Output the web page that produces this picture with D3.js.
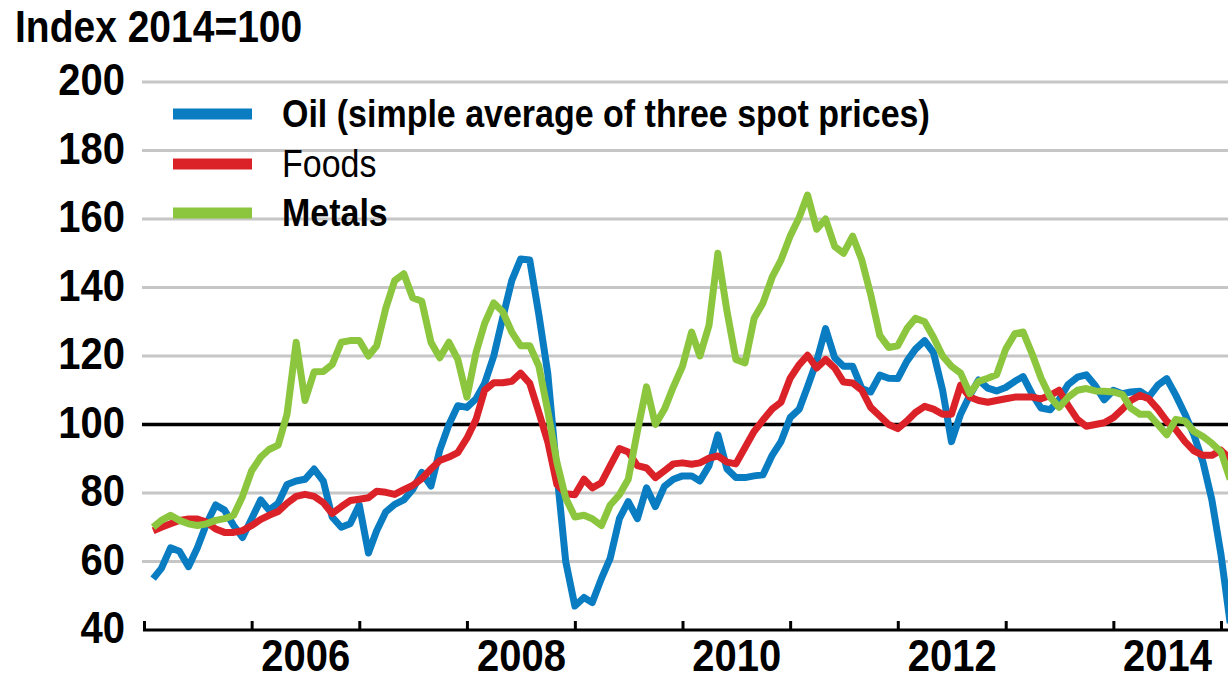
<!DOCTYPE html>
<html>
<head>
<meta charset="utf-8">
<script src="https://cdn.jsdelivr.net/npm/d3@7"></script>
<style>
    body { margin: 0; background: #fff; }
    svg { display: block; font-family: "Liberation Sans", Arial, sans-serif; }
</style>
</head>
<body>
<div id="chart"></div>
<script>
// monthly index values, Jan 2005 .. Jan 2015 (one row per year)
const oil = [
    55, 58, 64, 63, 58.5, 64, 71, 76.5, 75, 70.5, 67, 72.5,
    78, 75, 77, 82.5, 83.5, 84, 87, 83.5, 73, 70, 71, 76.5,
    62.5, 69, 74.5, 76.7, 78, 81, 86, 82, 92.5, 100, 105.5, 105,
    107.5, 112, 120, 131, 142, 148.3, 148, 132, 115, 86, 60, 47,
    49.5, 48, 55, 61, 72.5, 77.5, 72.5, 81.5, 76, 82, 84, 85,
    85, 83.5, 88, 97, 87, 84.5, 84.5, 85, 85.3, 91, 95, 102,
    104.5, 111, 118.5, 128, 119.5, 117, 117, 110.5, 109.5, 114.4, 113.5, 113.4,
    118.5, 122, 124.5, 121, 110, 95, 103, 108.5, 113, 110.6, 109.8, 110.8,
    112.6, 114, 108.8, 104.8, 104.3, 107.3, 111.7, 113.8, 114.5, 111.3, 107.2, 110,
    109, 109.5, 109.7, 108, 111.5, 113.4, 108.5, 103, 97, 89, 78, 62,
    42
]
const foods = [
    69, 70, 71, 72, 72.4, 72.4, 71.5, 69.5, 68.5, 68.5, 69, 70.5,
    72.3, 73.5, 74.6, 77, 79, 79.6, 79, 77.2, 74, 76, 77.8, 78.2,
    78.6, 80.5, 80.2, 79.6, 81, 82.2, 84.2, 87, 89.5, 90.5, 91.8, 96,
    101.5, 110, 112.2, 112.2, 112.6, 115, 112, 103.5, 95, 82.5, 79.8, 79.5,
    84, 81.5, 83, 88, 93, 92, 88, 87.3, 84.5, 86.5, 88.5, 88.8,
    88.4, 88.8, 90.2, 90.8, 89, 88.5, 93.3, 98, 101.3, 104.5, 106.5, 113.5,
    117.5, 120.2, 116.5, 119, 116.5, 112.4, 112.1, 110, 105, 102.5, 100, 98.8,
    101, 103.5, 105.3, 104.5, 103, 103, 111.5, 108, 107, 106.5, 107, 107.5,
    108, 108, 108, 107.5, 108.5, 110, 105.5, 101.5, 99.5, 100, 100.5, 102,
    104.5, 107, 108.5, 107.5, 104.5, 101, 98.5, 95, 92.3, 91, 91, 92.5,
    90
]
const metals = [
    70, 72, 73.5, 72, 71, 70.5, 71, 72, 72.5, 73.5, 79, 86.5,
    90.5, 92.7, 94, 103, 124, 107, 115.4, 115.5, 117.5, 124, 124.5, 124.5,
    120, 123, 134, 142, 144, 137, 136, 124, 119.5, 124, 119, 108,
    121, 129.5, 135.5, 133, 127, 123, 123, 117, 104, 89, 78.5, 73,
    73.5, 72.5, 70.5, 76.5, 79.5, 84, 98, 111, 100, 104.5, 111, 117,
    127, 120, 129, 150, 133, 119, 118, 131, 135.5, 143, 148, 155,
    160.5, 167, 157, 160, 152, 150, 155, 148, 138, 126, 122.5, 123,
    128, 131, 130, 125.5, 120, 117, 115, 109, 112.6, 113.5, 114.5, 122,
    126.5, 127, 120.5, 113.5, 108, 105, 108, 110, 110.5, 109.8, 109.7, 109.5,
    108.7, 104.8, 103, 103, 100, 97, 101.5, 101, 98, 96.5, 94.5, 92,
    84
]

const seriesNames = ["Oil (simple average of three spot prices)", "Foods", "Metals"]
const yTickValues = [40, 60, 80, 100, 120, 140, 160, 180, 200]
const yearLabels = [2006, 2008, 2010, 2012, 2014]
const titleText = "Index 2014=100"

const width = 1228
const height = 681
const colors = ["#0a7cc2", "#dc2229", "#8cc63f"]
const legendWeights = ["bold", "normal", "bold"]
const stretch = "scale(1,1.12)"   // text in the source is a bit tall

const x = d3.scaleTime()
    .domain([new Date(2005, 0, 1), new Date(2015, 0, 1)])
    .range([144, 1221])
const y = d3.scaleLinear().domain([40, 200]).range([630, 82])

// month list, each value plotted at the end of its month
const months = d3.timeMonth.range(new Date(2005, 0, 1), new Date(2015, 1, 1))

const svg = d3.select("#chart").append("svg")
    .attr("width", width)
    .attr("height", height)

// grid
svg.append("g")
    .selectAll("line")
    .data(yTickValues.filter(v => v > 40 && v != 100))
    .join("line")
    .attr("x1", 142).attr("x2", width)
    .attr("y1", d => y(d)).attr("y2", d => y(d))
    .attr("stroke", "#c6c6c6")
    .attr("stroke-width", 3)

svg.append("line")
    .attr("x1", 142).attr("x2", width)
    .attr("y1", y(100)).attr("y2", y(100))
    .attr("stroke", "#000")
    .attr("stroke-width", 3.5)

// y labels
const yAxis = svg.append("g")
    .attr("transform", "translate(142,0)")
    .call(d3.axisLeft(y).tickValues(yTickValues).tickSize(0))
yAxis.select(".domain").remove()
yAxis.selectAll("text")
    .attr("x", -17)
    .attr("dy", "0.28em")
    .attr("transform", stretch)
    .attr("fill", "#000")
    .style("font-size", "40px")
    .style("font-weight", "bold")
    .style("font-family", "'Liberation Sans', Arial, sans-serif")

// x axis: year ticks pointing up, labels in the middle of every other year
svg.append("line")
    .attr("x1", 143).attr("x2", width)
    .attr("y1", y(40)).attr("y2", y(40))
    .attr("stroke", "#000")
    .attr("stroke-width", 3)

const xTicks = svg.append("g")
    .attr("transform", `translate(0,${y(40)})`)
    .call(d3.axisBottom(x).ticks(d3.timeYear.every(1)).tickSize(-9).tickSizeOuter(0).tickFormat(""))
xTicks.select(".domain").remove()
xTicks.selectAll("line").attr("stroke", "#000").attr("stroke-width", 3)

const xLabels = svg.append("g")
    .attr("transform", `translate(0,${y(40)})`)
    .call(d3.axisBottom(x)
        .tickValues(yearLabels.map(yr => new Date(yr, 6, 2)))
        .tickFormat(d3.timeFormat("%Y"))
        .tickSize(0))
xLabels.select(".domain").remove()
xLabels.selectAll("text")
    .attr("y", 36.5)
    .attr("dy", 0)
    .attr("transform", stretch)
    .attr("fill", "#000")
    .style("font-size", "40px")
    .style("font-weight", "bold")
    .style("font-family", "'Liberation Sans', Arial, sans-serif")

// lines
const line = d3.line()
    .x((d, i) => x(d3.timeMonth.offset(months[i], 1)))
    .y(d => y(d))

svg.append("g")
    .selectAll("path")
    .data([oil, foods, metals])
    .join("path")
    .attr("d", line)
    .attr("fill", "none")
    .attr("stroke", (d, i) => colors[i])
    .attr("stroke-width", 7)
    .attr("stroke-linejoin", "round")

// legend
const legend = svg.append("g")
const legendY = [114, 164, 213]
legend.selectAll("line")
    .data(seriesNames)
    .join("line")
    .attr("x1", 173).attr("x2", 252)
    .attr("y1", (d, i) => legendY[i]).attr("y2", (d, i) => legendY[i])
    .attr("stroke", (d, i) => colors[i])
    .attr("stroke-width", 11)
legend.selectAll("text")
    .data(seriesNames)
    .join("text")
    .attr("transform", (d, i) => `translate(282,${legendY[i] + 13}) ${stretch}`)
    .style("font-size", "34px")
    .style("font-weight", (d, i) => legendWeights[i])
    .text(d => d)

// title
svg.append("text")
    .attr("transform", `translate(15,42) ${stretch}`)
    .style("font-size", "39px")
    .style("font-weight", "bold")
    .text(titleText)
</script>
</body>
</html>
